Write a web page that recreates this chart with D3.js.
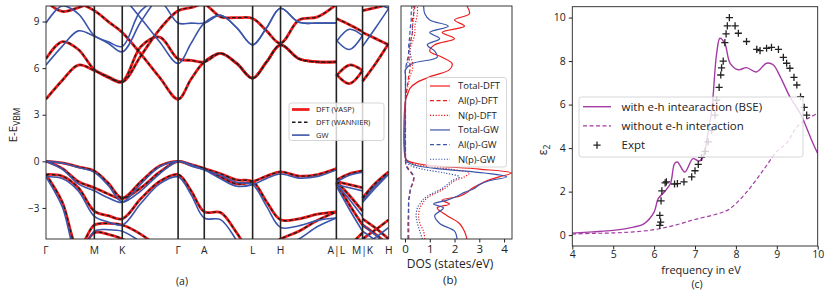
<!DOCTYPE html>
<html><head><meta charset="utf-8">
<script src="https://cdnjs.cloudflare.com/ajax/libs/d3/7.8.5/d3.min.js"></script>
<style>
body{margin:0;background:#fff}
svg{display:block}
text{font-family:'Open Sans',sans-serif;fill:#222}
</style></head>
<body><svg id="fig" width="830" height="290"></svg>
<script>
// ---------------- DATA ----------------
// (a) band structure: high-symmetry points along the path
const kLabels = ["Γ","M","K","Γ","A","L","H","A|L","M|K","H"];
const kTicks  = [0, 1.166, 1.839, 3.186, 3.817, 4.983, 5.656, 7.003, 7.634, 8.265];
// k sampling grid (three path pieces: Γ-M-K-Γ-A-L-H-A | L-M | K-H)
const kGrid = [0, 0.39, 0.78, 1.166, 1.50, 1.839, 2.29, 2.74, 3.186, 3.50, 3.817, 4.21, 4.60, 4.983, 5.32, 5.656, 6.10, 6.55, 7.003,
               7.003, 7.318, 7.634,
               7.634, 7.95, 8.265];
const pieces = [[0,18],[19,21],[22,24]];
const eTicks = [-3, 0, 3, 6, 9];

// DFT bands (eV)
const dftV1 = [0,-0.1,-0.35,-0.62,-1.4,-2.36,-1.3,-0.3,0,-0.2,-0.47,-1.0,-1.45,-1.3,-0.95,-0.68,-0.95,-0.85,-0.47,-1.2,-0.8,-0.62,-2.36,-1.4,-0.68];
const dftV2 = [0,-0.45,-1.3,-1.7,-2.1,-2.4,-1.7,-0.7,0,-0.25,-0.47,-0.8,-1.2,-1.3,-2.6,-3.76,-3.7,-3.4,-3.25,-1.3,-1.5,-1.7,-2.4,-1.5,-0.68];
const dftV3 = [-0.85,-0.95,-1.7,-3.2,-3.5,-3.7,-2.4,-1.3,-0.85,-1.9,-3.25,-3.3,-4.6,-6.0,-5.6,-5.0,-4.5,-3.8,-3.25,-1.3,-2.2,-3.2,-3.7,-4.3,-5.0];
const dftV4 = [-0.85,-2.6,-5.6,-4.1,-4.0,-4.1,-4.7,-5.6,-6.5,-6.5,-6.5,-6.5,-6.5,-6.5,-6.5,-6.5,-6.5,-6.5,-6.5,-1.4,-2.8,-4.1,-4.1,-4.7,-5.4];
const dftV5 = [-6.5,-6.5,-6.0,-4.6,-4.7,-5.0,-5.8,-6.5,-6.5,-6.5,-6.5,-6.5,-6.5,-6.5,-6.5,-6.5,-6.5,-6.5,-6.5,-6.0,-5.4,-4.6,-5.0,-4.4,-3.76];
const dftC1 = [4.0,5.2,6.2,5.85,5.4,5.1,6.8,8.5,9.7,9.9,10.1,9.3,9.25,9.2,8.4,7.6,9.1,9.3,10.1,9.2,8.8,8.35,9.7,9.9,10.1];
const dftC2 = [6.6,7.7,7.2,5.9,5.45,5.15,7.4,8.0,6.6,6.5,6.4,6.95,6.3,5.35,6.4,7.5,6.6,6.4,6.4,5.6,5.0,5.85,5.15,6.3,7.6];
const dftC3 = [10.6,10.5,10.2,9.7,9.0,8.3,6.9,5.4,4.0,5.3,6.4,6.95,6.3,5.35,6.4,7.5,6.6,6.4,6.4,5.5,6.2,5.85,8.3,7.9,7.5];
const dftC4 = [10.3,9.65,9.9,10.3,10.8,10.8,10.8,10.8,10.8,10.8,10.8,10.8,10.8,10.8,10.8,10.8,10.8,10.8,10.8,10.8,10.8,10.8,10.8,10.8,10.8];
// GW bands (eV)
const gwV1 = [0,-0.11,-0.4,-0.7,-1.55,-2.6,-1.45,-0.35,0,-0.22,-0.55,-1.12,-1.6,-1.5,-1.1,-0.82,-1.08,-0.97,-0.55,-1.35,-0.9,-0.7,-2.6,-1.55,-0.82];
const gwV2 = [0,-0.5,-1.45,-1.9,-2.35,-2.65,-1.9,-0.8,0,-0.3,-0.55,-0.9,-1.35,-1.5,-2.9,-4.25,-4.15,-3.8,-3.65,-1.5,-1.7,-1.9,-2.65,-1.7,-0.82];
const gwV3 = [-1.0,-1.1,-1.9,-3.55,-3.9,-4.1,-2.7,-1.45,-1.0,-2.15,-3.65,-3.75,-5.1,-6.6,-6.2,-5.5,-5.0,-4.2,-3.65,-1.5,-2.45,-3.55,-4.1,-4.75,-5.5];
const gwV4 = [-1.0,-2.9,-6.2,-4.5,-4.4,-4.5,-5.2,-6.2,-7,-7,-7,-7,-7,-7,-7,-7,-7,-7,-7,-1.6,-3.1,-4.5,-4.5,-5.1,-5.9];
const gwV5 = [-7,-7,-6.6,-5.1,-5.2,-5.5,-6.4,-7,-7,-7,-7,-7,-7,-7,-7,-7,-7,-7,-7,-6.6,-6.0,-5.1,-5.5,-4.9,-4.25];
const gwC1 = [6.2,7.4,8.4,8.05,7.6,7.05,9.0,10.7,11.9,12,12,12,12,12,12,12,12,12,12,11.5,11,10.6,12,12,12];
const gwC2 = [8.9,10.0,9.5,8.1,7.7,7.4,9.7,10.3,8.9,8.9,8.9,9.4,8.6,7.5,8.6,9.85,8.95,8.9,8.9,7.8,7.2,8.1,7.4,8.6,9.85];
const gwC3 = [12.8,12.8,12.5,12,11.3,10.6,9.2,7.7,6.3,7.6,8.9,9.4,8.6,7.5,8.6,9.85,8.95,8.9,8.9,7.7,8.5,8.1,10.6,10.2,9.85];

// (b) density of states
const dosE      = [-5,-4.5,-4,-3.5,-3,-2.75,-2.5,-2.25,-2,-1.75,-1.5,-1.25,-1,-0.75,-0.5,-0.25,0,0.2,3.9,4.3,4.7,5.1,5.5,5.9,6.3,6.7,7.1,7.5,7.9,8.3,8.7,9.1,9.5,10];
const totDFT    = [2.5,2.4,2.2,1.7,1.3,1.8,1.5,2.2,2.5,2.7,3.0,3.3,3.8,4.3,3.0,0.9,0.15,0.02,0.02,0.1,0.2,0.5,1.1,1.8,1.9,1.5,1.0,1.2,2.0,1.5,2.4,2.0,2.6,2.5];
const alDFT     = [0.15,0.15,0.15,0.15,0.15,0.15,0.15,0.18,0.2,0.22,0.3,0.35,0.35,0.25,0.15,0.05,0.02,0.02,0.02,0.05,0.08,0.12,0.15,0.2,0.2,0.15,0.15,0.2,0.25,0.3,0.3,0.3,0.35,0.4];
const nDFT      = [0.8,0.75,0.6,0.55,0.6,0.7,0.8,1.0,1.3,1.6,1.8,2.0,2.4,2.6,1.8,0.6,0.1,0.02,0.02,0.05,0.1,0.15,0.2,0.3,0.3,0.25,0.2,0.25,0.35,0.4,0.4,0.45,0.5,0.5];
const totGW     = [2.1,2.0,1.4,1.2,1.55,1.15,1.7,2.1,2.4,2.8,3.0,3.4,4.1,3.2,1.5,0.4,0.08,0.02,0.02,0.02,0.02,0.02,0.02,0.02,0.3,1.3,1.2,0.9,1.4,1.0,1.75,1.0,0.8,0.75];
const alGW      = [0.12,0.12,0.12,0.13,0.14,0.14,0.15,0.17,0.2,0.22,0.28,0.33,0.36,0.28,0.12,0.04,0.02,0.02,0.02,0.02,0.02,0.02,0.02,0.02,0.06,0.12,0.15,0.15,0.18,0.2,0.22,0.25,0.25,0.28];
const nGW       = [0.7,0.6,0.5,0.45,0.5,0.6,0.7,0.9,1.2,1.5,1.7,1.9,2.2,1.6,0.7,0.2,0.05,0.02,0.02,0.02,0.02,0.02,0.02,0.02,0.1,0.2,0.2,0.2,0.25,0.3,0.3,0.35,0.35,0.35];
const dosTicks  = [0,1,2,3,4];

// (c) imaginary dielectric function
const bseX  = [4,4.5,5,5.5,5.75,6.0,6.1,6.25,6.4,6.5,6.57,6.75,6.95,7.1,7.2,7.3,7.41,7.53,7.61,7.73,7.86,8.06,8.26,8.5,8.75,8.91,9.08,9.32,9.57,9.89,10];
const bseY  = [0.09,0.15,0.22,0.37,0.52,1.06,1.68,1.98,2.37,3.29,3.36,2.9,3.52,3.4,3.6,4.5,5.75,8.36,9.05,8.8,7.9,7.6,7.7,7.5,7.9,7.83,7.3,6.36,5.6,4.2,3.75];
const noehX = [4,4.5,5,5.5,6,6.5,7,7.5,7.8,8.0,8.25,8.5,8.75,9,9.25,9.5,9.75,10];
const noehY = [0.05,0.08,0.1,0.15,0.25,0.45,0.72,0.95,1.15,1.45,1.95,2.55,3.2,3.85,4.25,5.0,5.35,5.6];
const exptX = [6.14,6.16,6.14,6.17,6.19,6.27,6.3,6.5,6.57,6.73,6.92,7.0,7.08,7.16,7.25,7.32,7.41,7.49,7.53,7.59,7.63,7.65,7.69,7.73,7.76,7.79,7.84,7.98,8.06,8.26,8.51,8.59,8.75,8.87,9.04,9.16,9.24,9.32,9.42,9.49,9.58,9.67,9.73];
const exptY = [0.45,0.6,0.91,1.57,2.03,2.4,2.45,2.35,2.37,2.45,2.68,2.96,3.25,3.57,3.85,4.29,4.82,5.52,6.2,6.79,7.36,7.69,8.0,8.85,9.25,9.62,10.0,9.62,9.28,8.9,8.54,8.48,8.59,8.63,8.54,8.17,7.9,7.67,7.25,6.9,6.36,5.87,5.52];
const fTicks = [4,5,6,7,8,9,10];
const epsTicks = [0,2,4,6,8,10];

// ---------------- STYLE ----------------
const RED = "#ee1c1c", BLUE = "#3b55aa", PURPLE = "#a43aa4", INK = "#222";
const svg = d3.select("#fig");
const defs = svg.append("defs");

function clip(id, x0, y0, x1, y1) {
  defs.append("clipPath").attr("id", id).append("rect")
    .attr("x", x0).attr("y", y0).attr("width", x1 - x0).attr("height", y1 - y0);
}
function legendBox(g, x, y, w, h) {
  g.append("rect").attr("x", x).attr("y", y).attr("width", w).attr("height", h)
    .attr("rx", 2.5).attr("fill", "#fff").attr("fill-opacity", 0.8)
    .attr("stroke", "#cccccc").attr("stroke-width", 0.8);
}

// ---------------- PANEL (a) ----------------
const A = {l: 46, r: 388.7, t: 6, b: 239};
const xK = d3.scaleLinear().domain([kTicks[0], kTicks[kTicks.length - 1]]).range([A.l, A.r]);
const yE = d3.scaleLinear().domain([-5, 10]).range([A.b, A.t]);
clip("clipA", A.l, A.t, A.r, A.b);
const gA = svg.append("g");
const bandsA = gA.append("g").attr("clip-path", "url(#clipA)");
const bandLine = d3.line().x(d => xK(d[0])).y(d => yE(d[1])).curve(d3.curveCatmullRom.alpha(0.5));
function drawBands(list, color, width, dash) {
  list.forEach(arr => {
    pieces.forEach(([s, e]) => {
      const pts = [];
      for (let i = s; i <= e; i++) pts.push([kGrid[i], arr[i]]);
      bandsA.append("path").attr("d", bandLine(pts)).attr("fill", "none")
        .attr("stroke", color).attr("stroke-width", width)
        .attr("stroke-dasharray", dash || null);
    });
  });
}
const dftBands = [dftV1, dftV2, dftV3, dftV4, dftV5, dftC1, dftC2, dftC3, dftC4];
const gwBands = [gwV1, gwV2, gwV3, gwV4, gwV5, gwC1, gwC2, gwC3];
drawBands(dftBands, RED, 2.8);
drawBands(dftBands, "#1a1a1a", 1.3, "3.5,2.5");
drawBands(gwBands, BLUE, 1.6);

// high-symmetry lines
gA.selectAll("line.hs").data(kTicks.slice(1, -1)).enter().append("line")
  .attr("x1", d => xK(d)).attr("x2", d => xK(d)).attr("y1", A.t).attr("y2", A.b)
  .attr("stroke", INK).attr("stroke-width", 1.6);
gA.append("rect").attr("x", A.l).attr("y", A.t).attr("width", A.r - A.l).attr("height", A.b - A.t)
  .attr("fill", "none").attr("stroke", INK).attr("stroke-width", 0.9);
const axA = gA.append("g").attr("transform", `translate(${A.l},0)`)
  .call(d3.axisLeft(yE).tickValues(eTicks).tickSize(3.5).tickPadding(3));
axA.select(".domain").remove();
axA.selectAll("text").style("font-size", "10px").attr("fill", INK);
axA.selectAll("line").attr("stroke", INK);
gA.selectAll("text.kl").data(kTicks).enter().append("text")
  .attr("x", d => xK(d)).attr("y", 254).attr("text-anchor", "middle")
  .style("font-size", "10.3px").text((d, i) => kLabels[i]);
const yl = gA.append("text").attr("transform", "translate(17,125) rotate(-90)")
  .attr("text-anchor", "middle").style("font-size", "11.5px");
yl.append("tspan").text("E-E");
yl.append("tspan").attr("dy", 3).style("font-size", "8.5px").text("VBM");
gA.append("text").attr("x", 182).attr("y", 285).attr("text-anchor", "middle").style("font-size", "10.5px").text("(a)");
// legend (a)
const lgA = gA.append("g");
legendBox(lgA, 289, 103, 95, 37.5);
const legA = [{t: "DFT (VASP)", c: RED, w: 2.8}, {t: "DFT (WANNIER)", c: "#1a1a1a", w: 1.5, d: "3.5,2.5"}, {t: "GW", c: BLUE, w: 1.6}];
legA.forEach((e, i) => {
  const y = 109.5 + i * 12.8;
  lgA.append("line").attr("x1", 292).attr("x2", 309.5).attr("y1", y).attr("y2", y)
    .attr("stroke", e.c).attr("stroke-width", e.w).attr("stroke-dasharray", e.d || null);
  lgA.append("text").attr("x", 316).attr("y", y + 2.7).style("font-size", "7.6px").text(e.t);
});

// ---------------- PANEL (b) ----------------
const B = {l: 401, r: 512, t: 6, b: 239};
const xD = d3.scaleLinear().domain([0, 1]).range([405, 429.77]);
clip("clipB", B.l, B.t, B.r, B.b);
const gB = svg.append("g");
const curvesB = gB.append("g").attr("clip-path", "url(#clipB)");
const dosSeries = [
  {v: totDFT, c: RED, d: null, t: "Total-DFT"},
  {v: alDFT, c: RED, d: "4,2.5", t: "Al(p)-DFT"},
  {v: nDFT, c: RED, d: "1.2,1.6", t: "N(p)-DFT"},
  {v: totGW, c: BLUE, d: null, t: "Total-GW"},
  {v: alGW, c: BLUE, d: "4,2.5", t: "Al(p)-GW"},
  {v: nGW, c: BLUE, d: "1.2,1.6", t: "N(p)-GW"}
];
const dosLine = d3.line().x(d => xD(d[0])).y(d => yE(d[1])).curve(d3.curveCatmullRom.alpha(0.5));
dosSeries.forEach(s => {
  curvesB.append("path").attr("d", dosLine(dosE.map((e, i) => [s.v[i], e])))
    .attr("fill", "none").attr("stroke", s.c).attr("stroke-width", 1.2)
    .attr("stroke-dasharray", s.d);
});
gB.append("rect").attr("x", B.l).attr("y", B.t).attr("width", B.r - B.l).attr("height", B.b - B.t)
  .attr("fill", "none").attr("stroke", INK).attr("stroke-width", 0.9);
const axB = gB.append("g").attr("transform", `translate(0,${B.b})`)
  .call(d3.axisBottom(xD).tickValues(dosTicks).tickFormat(d3.format("d")).tickSize(3.5).tickPadding(2.5));
axB.select(".domain").remove();
axB.selectAll("text").style("font-size", "11.5px").attr("fill", INK);
axB.selectAll("line").attr("stroke", INK);
gB.append("text").attr("x", 450).attr("y", 268).attr("text-anchor", "middle").style("font-size", "12px").text("DOS (states/eV)");
gB.append("text").attr("x", 450).attr("y", 284).attr("text-anchor", "middle").style("font-size", "11.5px").text("(b)");
const lgB = gB.append("g");
legendBox(lgB, 426.5, 77.5, 80, 89.5);
dosSeries.forEach((s, i) => {
  const y = 86 + i * 14.65;
  lgB.append("line").attr("x1", 430).attr("x2", 450).attr("y1", y).attr("y2", y)
    .attr("stroke", s.c).attr("stroke-width", 1.2).attr("stroke-dasharray", s.d);
  lgB.append("text").attr("x", 458).attr("y", y + 3.4).style("font-size", "9.5px").text(s.t);
});

// ---------------- PANEL (c) ----------------
const C = {l: 572.3, r: 817.7, t: 6.7, b: 246};
const xF = d3.scaleLinear().domain([4, 10]).range([C.l, C.r]);
const yF = d3.scaleLinear().domain([-0.5, 10.5]).range([C.b, C.t]);
clip("clipC", C.l, C.t, C.r, C.b);
const gC = svg.append("g");
const curvesC = gC.append("g").attr("clip-path", "url(#clipC)");
const fLine = d3.line().x(d => xF(d[0])).y(d => yF(d[1])).curve(d3.curveCatmullRom.alpha(0.5));
curvesC.append("path").attr("d", fLine(bseX.map((x, i) => [x, bseY[i]])))
  .attr("fill", "none").attr("stroke", PURPLE).attr("stroke-width", 1.4);
curvesC.append("path").attr("d", fLine(noehX.map((x, i) => [x, noehY[i]])))
  .attr("fill", "none").attr("stroke", PURPLE).attr("stroke-width", 1.2).attr("stroke-dasharray", "4,2.5");
const plus = "M-3.6,0H3.6M0,-3.6V3.6";
curvesC.selectAll("path.ex").data(exptX).enter().append("path")
  .attr("d", plus).attr("transform", (d, i) => `translate(${xF(d)},${yF(exptY[i])})`)
  .attr("stroke", INK).attr("stroke-width", 1.3).attr("fill", "none");
gC.append("rect").attr("x", C.l).attr("y", C.t).attr("width", C.r - C.l).attr("height", C.b - C.t)
  .attr("fill", "none").attr("stroke", INK).attr("stroke-width", 0.9);
const axCx = gC.append("g").attr("transform", `translate(0,${C.b})`)
  .call(d3.axisBottom(xF).tickValues(fTicks).tickFormat(d3.format("d")).tickSize(3.5).tickPadding(1));
axCx.select(".domain").remove();
const axCy = gC.append("g").attr("transform", `translate(${C.l},0)`)
  .call(d3.axisLeft(yF).tickValues(epsTicks).tickFormat(d3.format("d")).tickSize(3.5).tickPadding(3));
axCy.select(".domain").remove();
[axCx, axCy].forEach(a => { a.selectAll("text").style("font-size", "10.5px").attr("fill", INK); a.selectAll("line").attr("stroke", INK); });
gC.append("text").attr("x", 701).attr("y", 273.5).attr("text-anchor", "middle").style("font-size", "11px").text("frequency in eV");
gC.append("text").attr("x", 697).attr("y", 288).attr("text-anchor", "middle").style("font-size", "10.5px").text("(c)");
const el = gC.append("text").attr("transform", "translate(547,150) rotate(-90)").attr("text-anchor", "middle").style("font-size", "12px");
el.append("tspan").text("ε");
el.append("tspan").attr("dy", 3).style("font-size", "8.5px").text("2");
// legend (c)
const lgC = gC.append("g");
legendBox(lgC, 579, 97, 224, 60);
const legC = [{t: "with e-h intearaction (BSE)", k: "solid"}, {t: "without e-h interaction", k: "dash"}, {t: "Expt", k: "plus"}];
legC.forEach((e, i) => {
  const y = 106.7 + i * 19.2;
  if (e.k === "plus") {
    lgC.append("path").attr("d", plus).attr("transform", `translate(597,${y})`)
      .attr("stroke", INK).attr("stroke-width", 1.3);
  } else {
    lgC.append("line").attr("x1", 583).attr("x2", 611).attr("y1", y).attr("y2", y)
      .attr("stroke", PURPLE).attr("stroke-width", e.k === "solid" ? 1.4 : 1.2)
      .attr("stroke-dasharray", e.k === "dash" ? "4,2.5" : null);
  }
  lgC.append("text").attr("x", 621.5).attr("y", y + 4).style("font-size", "11.5px").text(e.t);
});
</script></body></html>
